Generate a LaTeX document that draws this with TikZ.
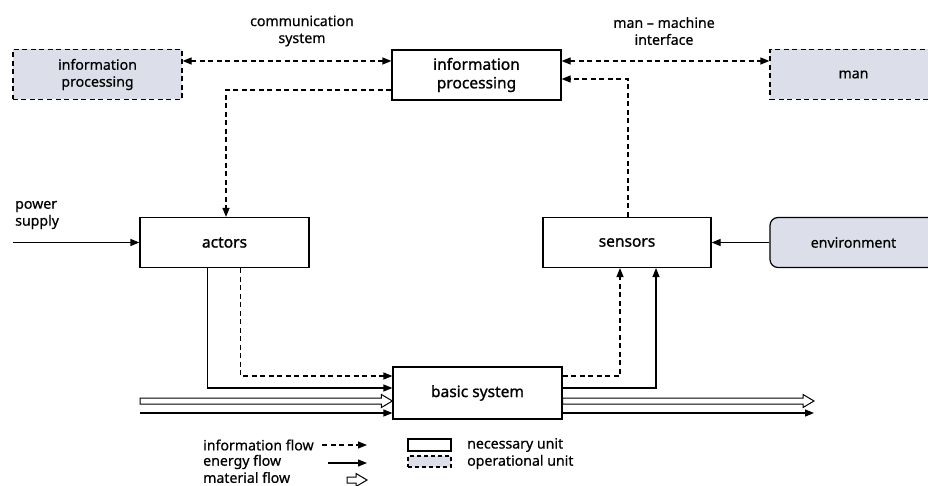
\documentclass[tikz,border=0pt]{standalone}
\usepackage{fontspec}
\setmainfont{Noto Sans}[FakeBold=0.5]
\newfontfamily\unitfont{Noto Sans}[FakeBold=1.1]
\usetikzlibrary{arrows.meta,calc}
\definecolor{opfill}{HTML}{DCDFE9}

% hollow arrow for material flow, from #1 to #2 (horizontal)
\newcommand\materialarrow[2]{%
  \draw[matline] let \p1=(#1), \p2=(#2) in
    (\x1,{\y1+3bp}) -- ({\x2-11bp},{\y1+3bp}) -- ({\x2-11bp},{\y1+6.5bp}) -- (\x2,\y1)
    -- ({\x2-11bp},{\y1-6.5bp}) -- ({\x2-11bp},{\y1-3bp}) -- (\x1,{\y1-3bp}) -- cycle;}

\begin{document}
\begin{tikzpicture}[x=1bp,y=-1bp,
  font=\fontsize{14.2}{17}\selectfont,
  >={Triangle[length=9bp,width=7bp]},
  box/.style={draw, line width=1.2bp, minimum width=169bp, minimum height=50bp,
    inner sep=0pt, align=center},
  nec/.style={box, fill=white, font=\unitfont\fontsize{15.6}{18.6}\selectfont},
  op/.style={box, fill=opfill, dash pattern=on 5bp off 3.5bp},
  envbox/.style={box, fill=opfill, rounded corners=8bp},
  lbl/.style={inner sep=0pt, align=center},
  info/.style={line width=1.2bp, dash pattern=on 5bp off 3.5bp},
  energy/.style={line width=1.2bp},
  matline/.style={line width=1bp, fill=white, line join=miter}]

\useasboundingbox (0,0) rectangle (928,486);
\fill[white] (0,0) rectangle (928,486);
\clip (0,0) rectangle (928,486);

% units
\node[op] (ipL) at (97.5,74.5) {information\\processing};
\node[nec] (ip) at (476.5,75) {information\\processing};
\node[op, minimum width=167bp] (man) at (853.5,74.5) {man};
\node[nec] (act) at (224.5,242.5) {actors};
\node[nec, minimum width=168bp] (sen) at (627,242.5) {sensors};
\node[envbox, minimum width=167bp] (env) at (853.5,242.5) {environment};
\node[nec, minimum height=52bp] (bas) at (477.5,393) {basic system};

% labels
\node[lbl] (comm) at (302,31) {communication\\system};
\node[lbl] (mmi) at (664,31) {man -- machine\\interface};
\node[lbl, align=left, anchor=west] (pow) at (15,215) {power\\supply};

% information links around the processing unit
\coordinate (tl) at ($(ip.west)+(0,-14)$);
\draw[info,<->] (ipL.east |- tl) -- (tl);
\coordinate (tr) at ($(ip.east)+(0,-14)$);
\draw[info,<->] (tr) -- (man.west |- tr);
\draw[info,->] ($(ip.west)+(0,15)$) -| ([xshift=1.5bp]act.north);
\draw[info,->] ([xshift=1bp]sen.north) |- ($(ip.east)+(0,4)$);

% energy inputs
\coordinate (pwr) at (13,242.5);
\draw[energy,->] (pwr) -- (act.west);
\draw[energy,->] (env.west) -- (sen.east);

% actors -> basic system
\draw[energy,->] ($(act.south west)+(68,0)$) |- ($(bas.west)+(0,-5)$);
\draw[info,->] ($(act.south west)+(101,0)$) |- ($(bas.west)+(0,-17)$);

% basic system -> sensors
\draw[info,->] ($(bas.east)+(0,-17)$) -| ($(sen.south)+(-7,0)$);
\draw[energy,->] ($(bas.east)+(0,-5)$) -| ($(sen.south)+(29,0)$);

% material and energy through the basic system
\coordinate (min) at (140,401);
\materialarrow{min}{$(bas.west)+(0,8)$}
\coordinate (ein) at (140,413);
\draw[energy,->] (ein) -- (ein -| bas.west);
\coordinate (mout) at (814,401);
\materialarrow{$(bas.east)+(0,8)$}{mout}
\coordinate (eout) at (814,413);
\draw[energy,->] (eout -| bas.east) -- (eout);

% legend
\node[lbl, anchor=west] (lgi) at (203,445) {information flow};
\node[lbl, anchor=west] (lge) at (203,462) {energy flow};
\node[lbl, anchor=west] (lgm) at (203,477.5) {material flow};
\coordinate (la1) at (322,445); \coordinate (lb1) at (367,445);
\draw[info,->] (la1) -- (lb1);
\coordinate (la2) at (328,463); \coordinate (lb2) at (367,463);
\draw[energy,->] (la2) -- (lb2);
\coordinate (la3) at (347,480); \coordinate (lb3) at (367,480);
\materialarrow{la3}{lb3}
\node[draw, line width=1.1bp, fill=white, minimum width=43bp, minimum height=12bp,
  inner sep=0pt] (lnec) at (429.5,445) {};
\node[draw, line width=1.1bp, fill=opfill, dash pattern=on 4bp off 3bp,
  minimum width=43bp, minimum height=11bp, inner sep=0pt] (lop) at (429.5,461.5) {};
\node[lbl, anchor=west] (lgn) at (467,445) {necessary unit};
\node[lbl, anchor=west] (lgo) at (467,462) {operational unit};
\end{tikzpicture}
\end{document}
